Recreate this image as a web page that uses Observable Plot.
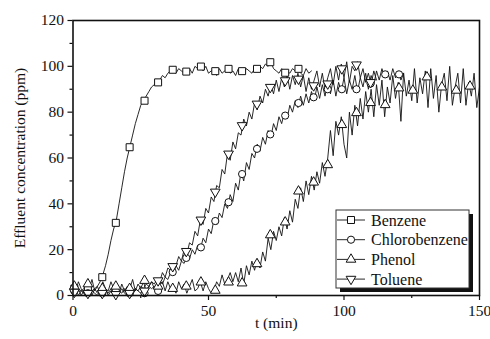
<!DOCTYPE html>
<html><head><meta charset="utf-8">
<script src="https://cdn.jsdelivr.net/npm/d3@7"></script>
<script src="https://cdn.jsdelivr.net/npm/@observablehq/plot@0.6"></script>
<style>
body{margin:0;background:#fff;}
#wrap{position:relative;width:490px;height:339px;}
#wrap svg, #wrap svg text{font-family:"Liberation Serif" !important;}
#legend{position:absolute;left:0;top:0;pointer-events:none;}
</style></head><body><div id="wrap"></div>
<script>
const seriesNames = ["Benzene", "Chlorobenzene", "Phenol", "Toluene"];

const benzene = [3,2,3,2,3,2,3,2,3,4,6,9,13,18,24,29,33,40,47,54,60,65,70,75,79,83,85,87,89,91,
  92,93,94,96,95,97,98,98,97,99,98,97,98,99,97,100,99,100,98,100,97,98,98,96,99,97,98,99,97,98,
  96,99,98,97,99,98,97,99,98,100,99,101,100,102,99,98,97,99,97,98,97,99,98,99,97,96,99,97,98];

const chlorobenzene = [1,3,0,2,1,3,0,2,1,0,2,1,3,0,2,1,0,2,1,3,1,2,0,3,2,1,3,2,4,3,
  4,3,6,5,8,7,10,9,13,11,15,14,18,16,20,18,22,20,25,23,29,27,33,31,36,34,40,38,44,41,
  49,46,54,50,58,55,62,60,66,63,69,66,72,69,75,72,78,75,80,77,83,80,85,82,87,83,88,84,89,85,
  91,86,92,87,93,88,94,87,93,89,95,88,94,90,96,89,95,91,97,90,96,92,98,94,99,95,98,94,99,95,
  98,94,97];

const phenol = [4,2,6,3,1,5,3,7,2,4,1,6,3,2,6,3,5,1,5,2,4,3,7,2,5,3,6,2,4,6,
  3,1,5,6,2,6,3,4,1,6,3,5,1,4,7,2,3,6,2,6,3,1,2,6,4,9,5,7,10,6,
  10,6,12,5,13,9,15,11,16,12,19,15,25,20,28,24,30,26,34,29,37,32,42,38,47,41,50,44,52,46,
  54,49,58,52,60,72,61,76,70,78,66,60,80,70,83,74,86,77,89,80,90,78,92,83,94,78,91,84,96,86,
  93,76,97,87,94,85,99,84,95,88,98,82,99,86,96,80,92,97,85,100,83,91,97,84,99,83,93,87,97,82,91];

const toluene = [2,1,3,0,2,1,2,0,3,1,2,0,2,1,3,0,2,1,3,1,0,2,1,3,2,4,3,5,4,6,
  5,7,6,10,8,12,11,14,13,17,15,20,18,23,22,28,26,33,31,38,36,43,41,48,47,55,53,62,59,67,
  64,71,70,77,74,80,77,84,81,87,84,90,87,92,88,94,89,95,91,96,90,96,92,97,91,96,89,95,90,94,
  98,91,97,90,95,99,92,100,94,101,95,102,93,100,98,102,95,99,93,97,92,98,94];

// marker positions (t) and the marker values of each series
const markT = [0.5,5.5,10.8,15.8,20.9,26.4,31.4,36.8,41.8,47.2,52.5,57.4,62.4,67.9,72.8,78.3,83.2,88.8,94,99.2,104.6,109.8,115.2,120.3,125.4,130.6,136.1,141.4,146.5];
const benzeneMark = [3,3,8,31.7,64.7,85,93,98.5,97.7,99.9,97.9,98.9,97.9,98.9,101.8,97.2,98.9];
const chlorobenzeneMark = [2,1,1,2,1,1,2,10.2,16.4,21,32.5,40.7,53,64,70.3,78.5,84,86.5,90,90,90,92.5,96.5,96.5];
const phenolMark = [4,5,3,4,3,6.5,4,3,4,5.8,2.2,5.8,5.4,13.8,26.4,32,45.5,49.4,57,74.5,79.7,84.1,83.2,90.5,89.5,95.3,90.9,89.5,91.3];
const tolueneMark = [1.5,1,1,0.5,1,2,6.5,12.7,19.3,33,45.2,61.8,74.2,83.6,90.9,93.8,94.5,91.6,92.4,99,100.7,93];

const xTicks = [0, 50, 100, 150];
const xMinor = [25, 75, 125];
const yTicks = [0, 20, 40, 60, 80, 100, 120];
const yMinor = [10, 30, 50, 70, 90, 110];

// ---- build ----
const FONT = "Liberation Serif";
const sqrt3 = Math.sqrt(3);
const triangleDown = {
  draw(context, size) {
    const y = Math.sqrt(size / (sqrt3 * 3));
    context.moveTo(0, y * 2);
    context.lineTo(-sqrt3 * y, -y);
    context.lineTo(sqrt3 * y, -y);
    context.closePath();
  }
};

const lineValues = [benzene, chlorobenzene, phenol, toluene];
const markValues = [benzeneMark, chlorobenzeneMark, phenolMark, tolueneMark];
const symbols = ["square", "circle", "triangle", triangleDown];
const radii = [3.95, 3.6, 3.6, 3.6];

const marks = [
  Plot.axisX(xTicks, {tickSize: 5, tickPadding: 4, strokeWidth: 1.2, label: "t (min)", labelAnchor: "center", labelArrow: "none", labelOffset: 32}),
  Plot.axisX(xMinor, {tickSize: 3, strokeWidth: 1.2, tickFormat: () => "", label: null}),
  Plot.axisY(yTicks, {tickSize: 5, tickPadding: 4, strokeWidth: 1.2, label: "Effluent concentration (ppm)", labelAnchor: "center", labelArrow: "none", labelOffset: 59}),
  Plot.axisY(yMinor, {tickSize: 3, strokeWidth: 1.2, tickFormat: () => "", label: null})
];
lineValues.forEach((vals, k) => {
  const data = vals.map((v, i) => ({t: i, v}));
  marks.push(Plot.line(data, {x: "t", y: "v", stroke: "#111", strokeWidth: 0.9}));
});
markValues.forEach((vals, k) => {
  const data = vals.map((v, i) => ({t: markT[i], v}));
  marks.push(Plot.dot(data, {x: "t", y: "v", symbol: symbols[k], r: radii[k], fill: "white", stroke: "#111", strokeWidth: 1}));
});
marks.push(Plot.frame({stroke: "#111", strokeWidth: 1.6}));

const chart = Plot.plot({
  width: 490, height: 339,
  marginLeft: 72.5, marginRight: 11, marginTop: 20, marginBottom: 44,
  style: {fontFamily: FONT, fontSize: "15.5px", color: "#111", background: "white"},
  x: {domain: [0, 150]},
  y: {domain: [0, 120]},
  marks
});
const wrap = document.getElementById("wrap");
wrap.appendChild(chart);

// ---- legend (drawn on an overlay svg) ----
const lg = d3.select(wrap).append("svg").attr("id", "legend").attr("width", 490).attr("height", 339);
const box = {x: 336, y: 210, w: 133, h: 78};
lg.append("rect").attr("x", box.x + 4).attr("y", box.y + 4).attr("width", box.w).attr("height", box.h).attr("fill", "#111");
lg.append("rect").attr("x", box.x).attr("y", box.y).attr("width", box.w).attr("height", box.h).attr("fill", "white").attr("stroke", "#333").attr("stroke-width", 1);
seriesNames.forEach((name, k) => {
  const cy = box.y + 10 + k * 19.7;
  const g = lg.append("g");
  g.append("line").attr("x1", box.x + 1).attr("x2", box.x + 29).attr("y1", cy).attr("y2", cy).attr("stroke", "#111").attr("stroke-width", 0.9);
  const sym = typeof symbols[k] === "string" ? {square: d3.symbolSquare, circle: d3.symbolCircle, triangle: d3.symbolTriangle}[symbols[k]] : symbols[k];
  g.append("path").attr("d", d3.symbol(sym, Math.PI * radii[k] * radii[k])()).attr("transform", `translate(${box.x + 15},${cy})`)
    .attr("fill", "white").attr("stroke", "#111").attr("stroke-width", 1);
  g.append("text").attr("x", box.x + 35).attr("y", cy).attr("dy", "0.35em").text(name)
    .attr("font-size", 16).attr("fill", "#111");
});
// make sure every text element carries the serif family directly
wrap.querySelectorAll("text").forEach(t => t.setAttribute("font-family", FONT));
</script>
</body></html>
